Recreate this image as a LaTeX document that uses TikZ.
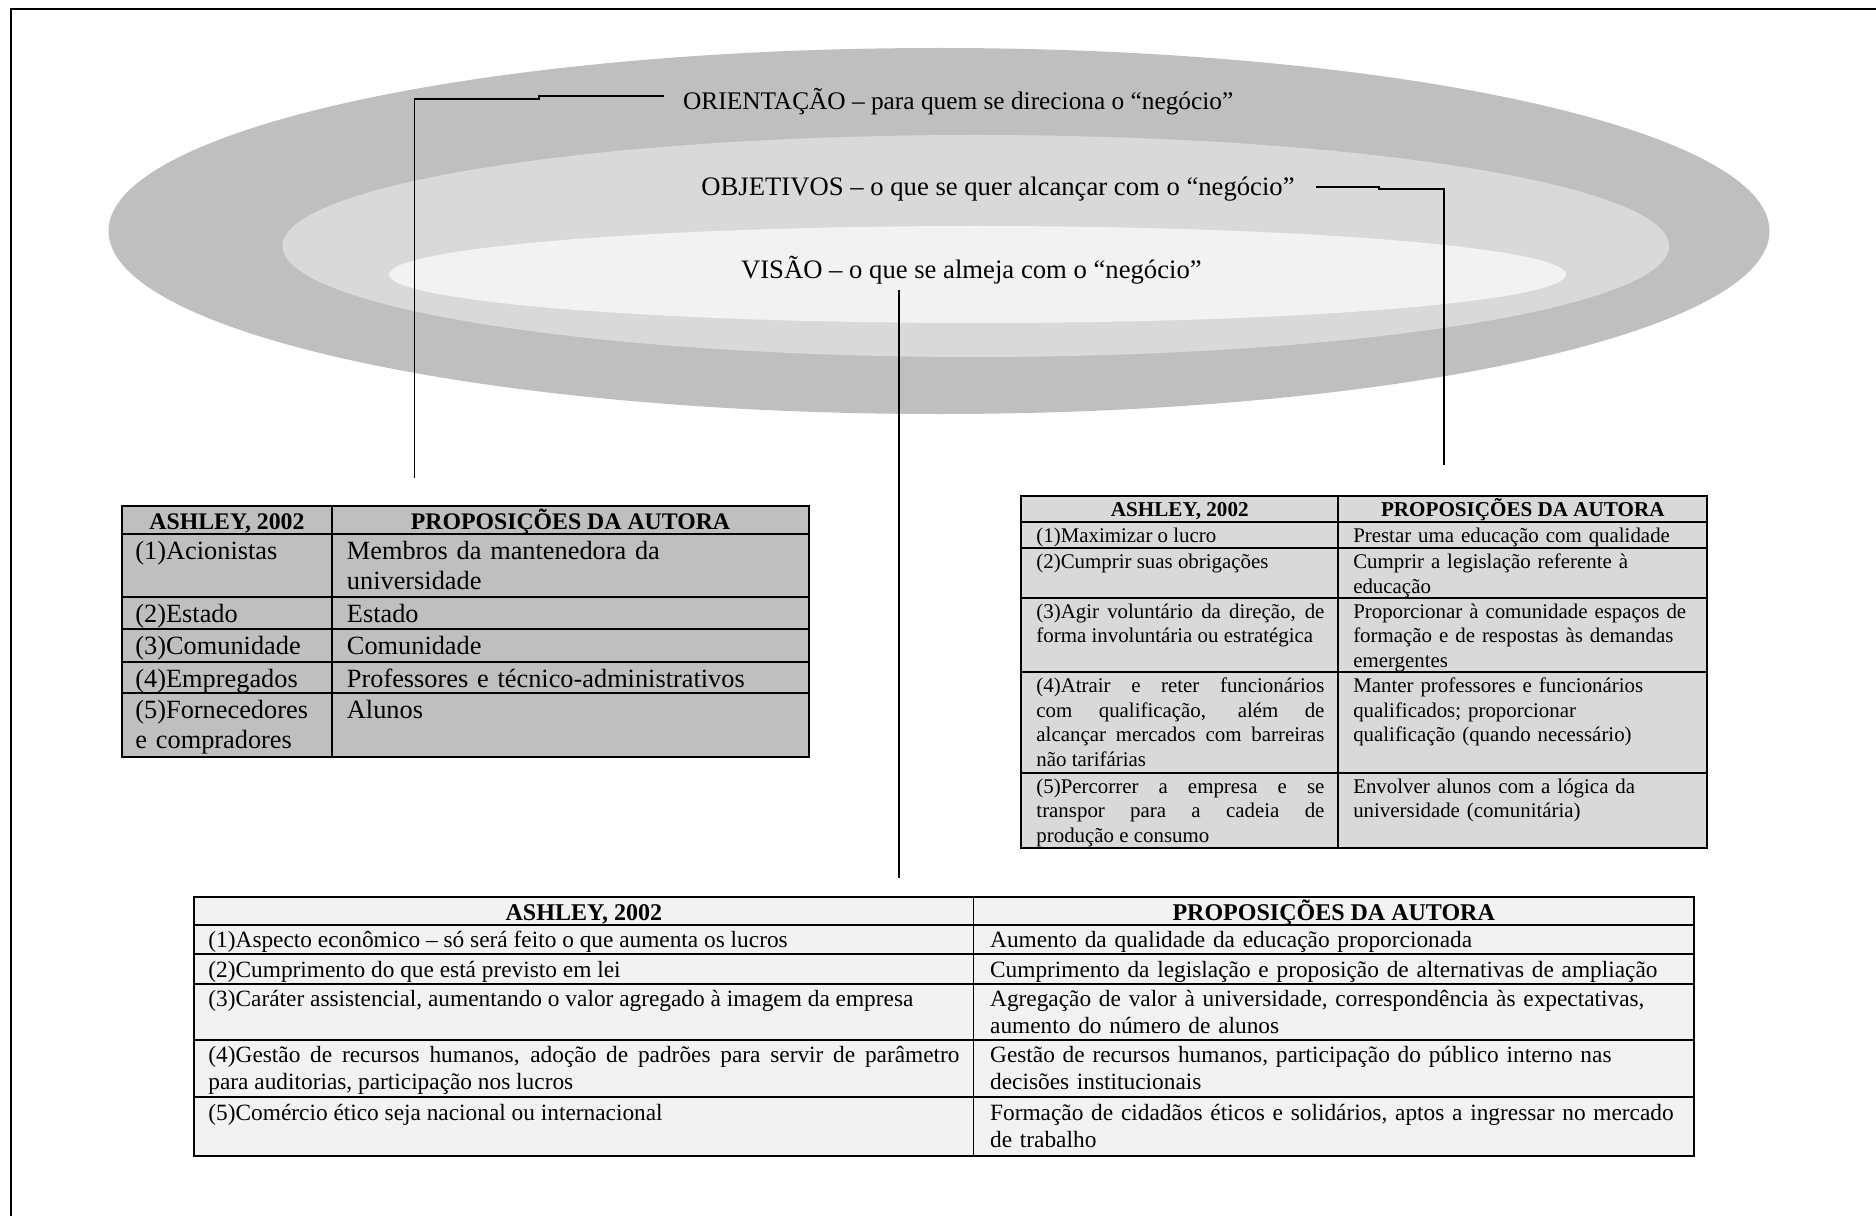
\documentclass[tikz,border=0pt]{standalone}
\usepackage{fontspec}
\setmainfont{Liberation Serif}
\definecolor{cinzaescuro}{HTML}{BFBFBF}
\definecolor{cinzamedio}{HTML}{D9D9D9}
\definecolor{cinzaclaro}{HTML}{F2F2F2}
\tikzset{
  rotulo/.style={anchor=base west, inner sep=0pt, font=\fontsize{12}{13.5}\selectfont},
  conector/.style={line width=0.8pt},
  grade/.style={line width=0.8pt},
  cela/.style={anchor=north west, inner sep=0pt, execute at begin node=\strut},
  texto1/.style={cela, font=\fontsize{11.85}{13.5}\selectfont},
  texto2/.style={cela, font=\fontsize{9.4}{11.07}\selectfont},
  texto3/.style={cela, font=\fontsize{10.5}{12.15}\selectfont},
  cab1/.style={anchor=base, inner sep=0pt, font=\bfseries\fontsize{10.7}{12}\selectfont},
  cab2/.style={cab1, font=\bfseries\fontsize{9.5}{11}\selectfont},
  cab3/.style={cab1, font=\bfseries\fontsize{10.8}{12}\selectfont}
}
\begin{document}
\begin{tikzpicture}[x=0.45pt,y=-0.45pt]
\useasboundingbox (0,0) rectangle (1876,1216);
% Moldura
\draw[line width=1pt] (11,1216) -- (11,9) -- (1876,9);

% Elipses
\fill[cinzaescuro] (939,231) ellipse [x radius=830.5, y radius=183];
\fill[cinzamedio] (975.8,246) ellipse [x radius=693.3, y radius=111];
\fill[cinzaclaro] (977.5,274.5) ellipse [x radius=588.5, y radius=48.5];

% Rotulos
\node[rotulo, font=\fontsize{11.4}{13}\selectfont] (orient) at (682.7,110) {ORIENTAÇÃO – para quem se direciona o “negócio”};
\node[rotulo] (objet) at (701,195.5) {OBJETIVOS – o que se quer alcançar com o “negócio”};
\node[rotulo] (visao) at (740.6,279) {VISÃO – o que se almeja com o “negócio”};

% Conectores
\coordinate (c1a) at (539,96.3);
\coordinate (c1b) at (539,99.3);
\coordinate (c1c) at (414.6,99.3);
\coordinate (c1fim) at (414.6,478);
\draw[conector] ([xshift=-8.4pt]orient.west |- c1a) -- (c1a) -- (c1b) -- (c1c) -- (c1fim);
\coordinate (c2a) at (1379,186.7);
\coordinate (c2b) at (1379,189.3);
\coordinate (c2c) at (1443.6,189.3);
\coordinate (c2fim) at (1443.6,465);
\draw[conector] ([xshift=9.45pt]objet.east |- c2a) -- (c2a) -- (c2b) -- (c2c) -- (c2fim);
\coordinate (c3ini) at (899,290);
\coordinate (c3fim) at (899,878);
\draw[conector] (c3ini) -- (c3fim);

% Tabela 1 - orientacao
\draw[grade, fill=cinzaescuro] (122,506) rectangle (809,756.7);
\draw[grade] (332,506) -- (332,756.7)
  (122,534.3) -- (809,534.3) (122,597.3) -- (809,597.3) (122,629.3) -- (809,629.3)
  (122,661.7) -- (809,661.7) (122,693.3) -- (809,693.3);
\node[cab1] (t1cabA) at (227,529.3) {ASHLEY, 2002};
\node[cab1] (t1cabB) at (570.5,529.3) {PROPOSIÇÕES DA AUTORA};
\node[texto1, text width=85.5pt, align=left] (t1a1) at (135,538.3) {(1)Acionistas};
\node[texto1, text width=202.5pt, align=left] (t1b1) at (346.5,538.3) {Membros da mantenedora da\\universidade};
\node[texto1, text width=85.5pt, align=left] (t1a2) at (135,601.3) {(2)Estado};
\node[texto1, text width=202.5pt, align=left] (t1b2) at (346.5,601.3) {Estado};
\node[texto1, text width=85.5pt, align=left] (t1a3) at (135,633.3) {(3)Comunidade};
\node[texto1, text width=202.5pt, align=left] (t1b3) at (346.5,633.3) {Comunidade};
\node[texto1, text width=85.5pt, align=left] (t1a4) at (135,665.7) {(4)Empregados};
\node[texto1, text width=202.5pt, align=left] (t1b4) at (346.5,665.7) {Professores e técnico-administrativos};
\node[texto1, text width=85.5pt, align=left] (t1a5) at (135,697.3) {(5)Fornecedores\\e compradores};
\node[texto1, text width=202.5pt, align=left] (t1b5) at (346.5,697.3) {Alunos};

% Tabela 2 - objetivos
\draw[grade, fill=cinzamedio] (1021.3,496) rectangle (1707.3,848.3);
\draw[grade] (1338.3,496) -- (1338.3,848.3)
  (1021.3,521.7) -- (1707.3,521.7) (1021.3,548.3) -- (1707.3,548.3) (1021.3,597.7) -- (1707.3,597.7)
  (1021.3,672.3) -- (1707.3,672.3) (1021.3,772.7) -- (1707.3,772.7);
\node[cab2] (t2cabA) at (1179.8,516.7) {ASHLEY, 2002};
\node[cab2] (t2cabB) at (1522.8,516.7) {PROPOSIÇÕES DA AUTORA};
\node[texto2, text width=129.6pt, align=justify] (t2a1) at (1036,524.5) {(1)Maximizar o lucro};
\node[texto2, text width=157.5pt, align=left] (t2b1) at (1352.8,524.5) {Prestar uma educação com qualidade};
\node[texto2, text width=129.6pt, align=justify] (t2a2) at (1036,551.1) {(2)Cumprir suas obrigações};
\node[texto2, text width=157.5pt, align=left] (t2b2) at (1352.8,551.1) {Cumprir a legislação referente à\\educação};
\node[texto2, text width=129.6pt, align=justify] (t2a3) at (1036,600.5) {(3)Agir voluntário da direção, de\linebreak forma involuntária ou estratégica};
\node[texto2, text width=157.5pt, align=left] (t2b3) at (1352.8,600.5) {Proporcionar à comunidade espaços de\\formação e de respostas às demandas\\emergentes};
\node[texto2, text width=129.6pt, align=justify] (t2a4) at (1036,675.1) {(4)Atrair e reter funcionários\linebreak com qualificação, além de\linebreak alcançar mercados com barreiras\linebreak não tarifárias};
\node[texto2, text width=157.5pt, align=left] (t2b4) at (1352.8,675.1) {Manter professores e funcionários\\qualificados; proporcionar\\qualificação (quando necessário)};
\node[texto2, text width=129.6pt, align=justify] (t2a5) at (1036,775.5) {(5)Percorrer a empresa e se\linebreak transpor para a cadeia de\linebreak produção e consumo};
\node[texto2, text width=157.5pt, align=left] (t2b5) at (1352.8,775.5) {Envolver alunos com a lógica da\\universidade (comunitária)};

% Tabela 3 - visao
\draw[grade, fill=cinzaclaro] (194.3,896.7) rectangle (1694,1155.7);
\draw[grade] (973.4,896.7) -- (973.4,1155.7)
  (194.3,925) -- (1694,925) (194.3,954.3) -- (1694,954.3) (194.3,984) -- (1694,984)
  (194.3,1040) -- (1694,1040) (194.3,1097.3) -- (1694,1097.3);
\node[cab3] (t3cabA) at (583.9,920) {ASHLEY, 2002};
\node[cab3] (t3cabB) at (1333.7,920) {PROPOSIÇÕES DA AUTORA};
\node[texto3, text width=338pt, align=justify] (t3a1) at (208,928.4) {(1)Aspecto econômico – só será feito o que aumenta os lucros};
\node[texto3, text width=315pt, align=left] (t3b1) at (989.7,928.4) {Aumento da qualidade da educação proporcionada};
\node[texto3, text width=338pt, align=justify] (t3a2) at (208,957.7) {(2)Cumprimento do que está previsto em lei};
\node[texto3, text width=315pt, align=left] (t3b2) at (989.7,957.7) {Cumprimento da legislação e proposição de alternativas de ampliação};
\node[texto3, text width=338pt, align=justify] (t3a3) at (208,987.4) {(3)Caráter assistencial, aumentando o valor agregado à imagem da empresa};
\node[texto3, text width=315pt, align=left] (t3b3) at (989.7,987.4) {Agregação de valor à universidade, correspondência às expectativas,\\aumento do número de alunos};
\node[texto3, text width=338pt, align=justify] (t3a4) at (208,1043.4) {(4)Gestão de recursos humanos, adoção de padrões para servir de parâmetro\linebreak para auditorias, participação nos lucros};
\node[texto3, text width=315pt, align=left] (t3b4) at (989.7,1043.4) {Gestão de recursos humanos, participação do público interno nas\\decisões institucionais};
\node[texto3, text width=338pt, align=justify] (t3a5) at (208,1100.7) {(5)Comércio ético seja nacional ou internacional};
\node[texto3, text width=315pt, align=left] (t3b5) at (989.7,1100.7) {Formação de cidadãos éticos e solidários, aptos a ingressar no mercado\\de trabalho};
\end{tikzpicture}
\end{document}
